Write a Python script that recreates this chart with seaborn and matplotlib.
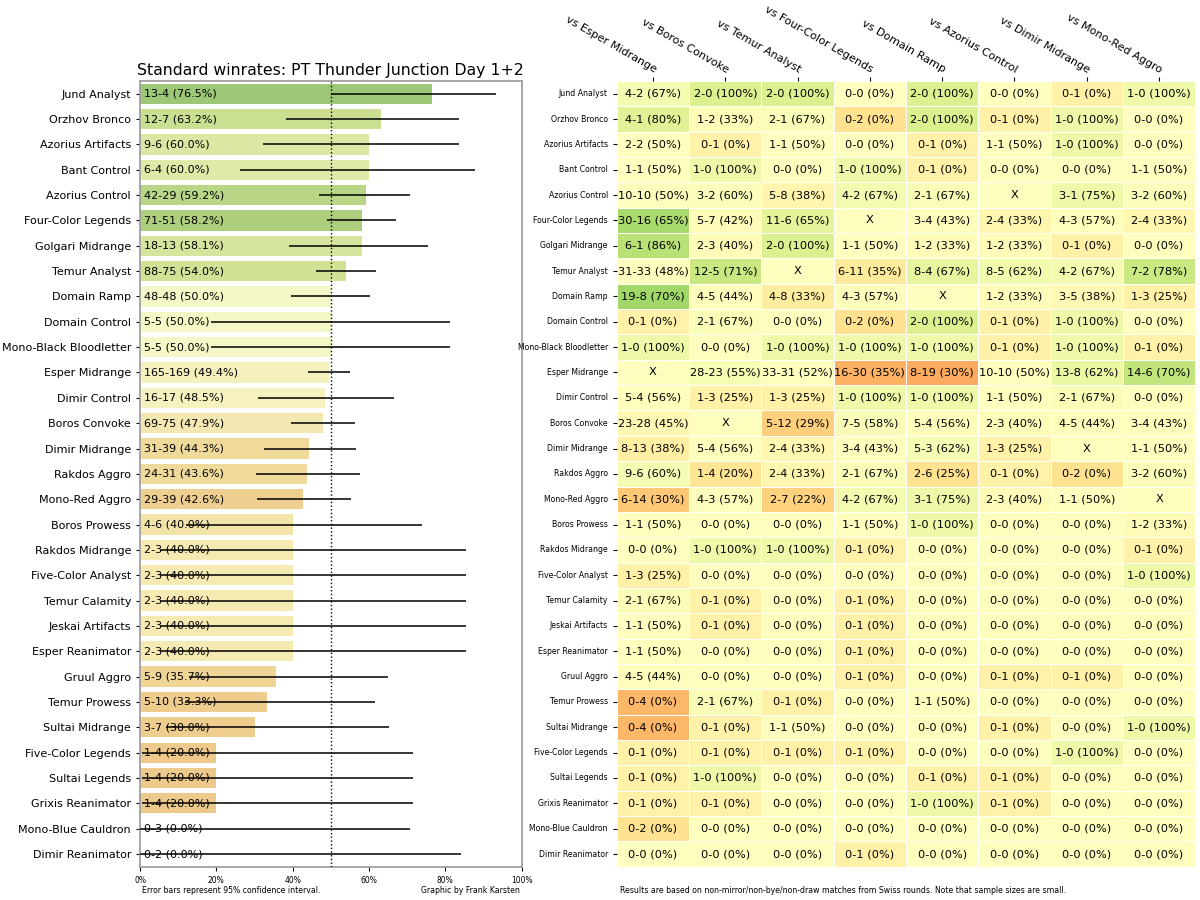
import numpy as np
import pandas as pd
import matplotlib
matplotlib.use('Agg')
import matplotlib.pyplot as plt
import seaborn as sns
from math import comb, sqrt

# Archetypes, sorted by overall winrate
archetypes = ['Jund Analyst', 'Orzhov Bronco', 'Azorius Artifacts', 'Bant Control', 'Azorius Control',
              'Four-Color Legends', 'Golgari Midrange', 'Temur Analyst', 'Domain Ramp', 'Domain Control',
              'Mono-Black Bloodletter', 'Esper Midrange', 'Dimir Control', 'Boros Convoke', 'Dimir Midrange',
              'Rakdos Aggro', 'Mono-Red Aggro', 'Boros Prowess', 'Rakdos Midrange', 'Five-Color Analyst',
              'Temur Calamity', 'Jeskai Artifacts', 'Esper Reanimator', 'Gruul Aggro', 'Temur Prowess',
              'Sultai Midrange', 'Five-Color Legends', 'Sultai Legends', 'Grixis Reanimator',
              'Mono-Blue Cauldron', 'Dimir Reanimator']

overall_wins = [13, 12, 9, 6, 42, 71, 18, 88, 48, 5, 5, 165, 16, 69, 31, 24, 29, 4, 2, 2, 2, 2, 2, 5, 5, 3, 1, 1, 1, 0, 0]
overall_losses = [4, 7, 6, 4, 29, 51, 13, 75, 48, 5, 5, 169, 17, 75, 39, 31, 39, 6, 3, 3, 3, 3, 3, 9, 10, 7, 4, 4, 4, 3, 2]

opponents = ['Esper Midrange', 'Boros Convoke', 'Temur Analyst', 'Four-Color Legends',
             'Domain Ramp', 'Azorius Control', 'Dimir Midrange', 'Mono-Red Aggro']

# Matchup records (row deck vs column deck), X = mirror
matchups = [
    ['4-2', '2-0', '2-0', '0-0', '2-0', '0-0', '0-1', '1-0'],
    ['4-1', '1-2', '2-1', '0-2', '2-0', '0-1', '1-0', '0-0'],
    ['2-2', '0-1', '1-1', '0-0', '0-1', '1-1', '1-0', '0-0'],
    ['1-1', '1-0', '0-0', '1-0', '0-1', '0-0', '0-0', '1-1'],
    ['10-10', '3-2', '5-8', '4-2', '2-1', 'X', '3-1', '3-2'],
    ['30-16', '5-7', '11-6', 'X', '3-4', '2-4', '4-3', '2-4'],
    ['6-1', '2-3', '2-0', '1-1', '1-2', '1-2', '0-1', '0-0'],
    ['31-33', '12-5', 'X', '6-11', '8-4', '8-5', '4-2', '7-2'],
    ['19-8', '4-5', '4-8', '4-3', 'X', '1-2', '3-5', '1-3'],
    ['0-1', '2-1', '0-0', '0-2', '2-0', '0-1', '1-0', '0-0'],
    ['1-0', '0-0', '1-0', '1-0', '1-0', '0-1', '1-0', '0-1'],
    ['X', '28-23', '33-31', '16-30', '8-19', '10-10', '13-8', '14-6'],
    ['5-4', '1-3', '1-3', '1-0', '1-0', '1-1', '2-1', '0-0'],
    ['23-28', 'X', '5-12', '7-5', '5-4', '2-3', '4-5', '3-4'],
    ['8-13', '5-4', '2-4', '3-4', '5-3', '1-3', 'X', '1-1'],
    ['9-6', '1-4', '2-4', '2-1', '2-6', '0-1', '0-2', '3-2'],
    ['6-14', '4-3', '2-7', '4-2', '3-1', '2-3', '1-1', 'X'],
    ['1-1', '0-0', '0-0', '1-1', '1-0', '0-0', '0-0', '1-2'],
    ['0-0', '1-0', '1-0', '0-1', '0-0', '0-0', '0-0', '0-1'],
    ['1-3', '0-0', '0-0', '0-0', '0-0', '0-0', '0-0', '1-0'],
    ['2-1', '0-1', '0-0', '0-1', '0-0', '0-0', '0-0', '0-0'],
    ['1-1', '0-1', '0-0', '0-1', '0-0', '0-0', '0-0', '0-0'],
    ['1-1', '0-0', '0-0', '0-1', '0-0', '0-0', '0-0', '0-0'],
    ['4-5', '0-0', '0-0', '0-1', '0-0', '0-1', '0-1', '0-0'],
    ['0-4', '2-1', '0-1', '0-0', '1-1', '0-0', '0-0', '0-0'],
    ['0-4', '0-1', '1-1', '0-0', '0-0', '0-1', '0-0', '1-0'],
    ['0-1', '0-1', '0-1', '0-1', '0-0', '0-0', '1-0', '0-0'],
    ['0-1', '1-0', '0-0', '0-0', '0-1', '0-1', '0-0', '0-0'],
    ['0-1', '0-1', '0-0', '0-0', '1-0', '0-1', '0-0', '0-0'],
    ['0-2', '0-0', '0-0', '0-0', '0-0', '0-0', '0-0', '0-0'],
    ['0-0', '0-0', '0-0', '0-1', '0-0', '0-0', '0-0', '0-0'],
]


def zscore(w, l):
    # how far the winrate is from 50%, in standard errors
    n = w + l
    if n == 0:
        return 0.0
    return (w / n - 0.5) / (0.5 / sqrt(n))


def binom_cdf(k, n, p):
    return sum(comb(n, i) * p ** i * (1 - p) ** (n - i) for i in range(k + 1))


def bisect(f, target, increasing):
    a, b = 0.0, 1.0
    for _ in range(60):
        m = (a + b) / 2
        if (f(m) < target) == increasing:
            a = m
        else:
            b = m
    return (a + b) / 2


def clopper_pearson(w, l, alpha=0.05):
    n = w + l
    lo = 0.0 if w == 0 else bisect(lambda p: 1 - binom_cdf(w - 1, n, p), alpha / 2, True)
    hi = 1.0 if w == n else bisect(lambda p: binom_cdf(w, n, p), alpha / 2, False)
    return lo, hi


cmap = plt.get_cmap('RdYlGn')
zmax = 5.0

# ---- left: overall winrates ----
df = pd.DataFrame({'deck': archetypes, 'wins': overall_wins, 'losses': overall_losses})
df['winrate'] = df['wins'] / (df['wins'] + df['losses'])
df['z'] = [zscore(w, l) for w, l in zip(df['wins'], df['losses'])]
bar_colors = [cmap(0.5 + z / (2 * zmax)) for z in df['z']]
ci = [clopper_pearson(w, l) for w, l in zip(df['wins'], df['losses'])]

fig = plt.figure(figsize=(12, 9), dpi=100)
ax = fig.add_axes([0.1167, 0.037, 0.318, 0.873])

sns.barplot(data=df, x='winrate', y='deck', hue='deck', palette=bar_colors, legend=False,
            orient='h', width=0.8, ax=ax)
ax.hlines(range(len(df)), [c[0] for c in ci], [c[1] for c in ci], color='black', lw=1.1, zorder=4)
ax.axvline(0.5, color='black', ls=':', lw=1, zorder=3)
for i, (w, l, r) in enumerate(zip(df['wins'], df['losses'], df['winrate'])):
    ax.text(0.01, i, f'{w}-{l} ({100 * r:.1f}%)', va='center', ha='left', fontsize=8)

ax.set_xlim(0, 1)
ax.set_ylim(len(df) - 0.5, -0.5)
ax.set_xticks(np.arange(0, 1.01, 0.2))
ax.set_xticklabels([f'{int(round(t * 100))}%' for t in np.arange(0, 1.01, 0.2)], fontsize=5.5)
ax.tick_params(axis='y', labelsize=8, length=3)
ax.tick_params(axis='x', length=3)
ax.set_xlabel('')
ax.set_ylabel('')
for s in ax.spines.values():
    s.set_edgecolor('#a0a0a0')
    s.set_linewidth(1.3)
ax.set_title('Standard winrates: PT Thunder Junction Day 1+2', fontsize=11.3, pad=4)

fig.text(0.118, 0.008, 'Error bars represent 95% confidence interval.', fontsize=5.6)
fig.text(0.433, 0.008, 'Graphic by Frank Karsten', fontsize=5.6, ha='right')

# ---- right: matchup heatmap ----
# cell colour: signed chi-square of the record against a 50% winrate
chi_grid = []
annot_grid = []
for row in matchups:
    cr, ar = [], []
    for cell in row:
        if cell == 'X':
            cr.append(0.0)
            ar.append('X')
        else:
            w, l = (int(v) for v in cell.split('-'))
            n = w + l
            pct = 100 * w / n if n else 0
            z = zscore(w, l)
            cr.append(z * abs(z))
            ar.append(f'{w}-{l} ({pct:.0f}%)')
    chi_grid.append(cr)
    annot_grid.append(ar)

chi_df = pd.DataFrame(chi_grid, index=archetypes, columns=['vs ' + o for o in opponents])

ax2 = fig.add_axes([0.514, 0.037, 0.482, 0.873])
sns.heatmap(chi_df, cmap='RdYlGn', vmin=-11, vmax=11, annot=np.array(annot_grid), fmt='',
            cbar=False, linewidths=0.7, linecolor='white', ax=ax2,
            annot_kws={'fontsize': 8.2, 'color': 'black'})
ax2.xaxis.tick_top()
ax2.set_xticklabels(chi_df.columns, rotation=-30, ha='right', rotation_mode='anchor', fontsize=8)
ax2.set_yticklabels(archetypes, rotation=0, fontsize=5.6)
ax2.tick_params(axis='both', length=3)
ax2.tick_params(axis='x', pad=1.5)
ax2.set_xlabel('')
ax2.set_ylabel('')

fig.text(0.517, 0.008, 'Results are based on non-mirror/non-bye/non-draw matches from Swiss rounds. '
         'Note that sample sizes are small.', fontsize=5.6)

fig.savefig('out.png', dpi=100)
